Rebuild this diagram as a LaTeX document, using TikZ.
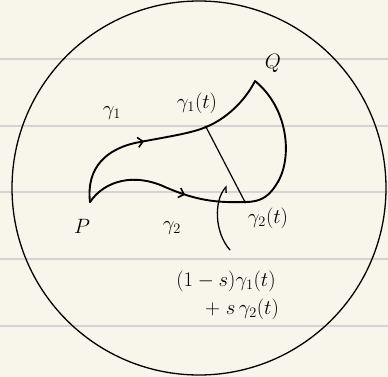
\documentclass[tikz,border=0pt]{standalone}
\usepackage{amsmath, amssymb}
\usepackage{xcolor}
\usetikzlibrary{arrows.meta, decorations.markings}

\definecolor{paper}{HTML}{F8F6EA}
\definecolor{ruling}{HTML}{D4D4D4}

\tikzset{
    curve/.style={line width=1.9pt, line cap=round},
    midarrow/.style={postaction={decorate}, decoration={markings,
        mark=at position #1 with {\arrow{Straight Barb[length=5pt, width=10pt, line width=1.6pt]}}}},
    lbl/.style={font=\huge, inner sep=1pt},
}

\begin{document}
\begin{tikzpicture}[x=1pt, y=-1pt]
    % Paper
    \fill[paper] (0,0) rectangle (388,377);
    \useasboundingbox (0,0) rectangle (388,377);
    \foreach \y in {59,126,192,259,326}
        \draw[ruling, line width=1.4pt] (0,\y) -- (388,\y);
    
    % Disc
    \draw[line width=1.3pt] (199,188) circle (187pt);
    
    % Points
    \coordinate (P) at (90,202);
    \coordinate (Q) at (255,81);
    \coordinate (g1t) at (206,127);
    \coordinate (g2t) at (245,202);
    
    % Path gamma_1
    \draw[curve, midarrow=0.41] (P) .. controls (86,168) and (106,148) .. (140,142)
        .. controls (172,136) and (192,133) .. (g1t)
        .. controls (226,119) and (245,101) .. (Q);
    
    % Path gamma_2
    \draw[curve, midarrow=0.33] (P) .. controls (105,180) and (135,173) .. (165,187)
        .. controls (195,200) and (215,203) .. (g2t)
        .. controls (262,202) and (270,196) .. (279,180)
        .. controls (292,155) and (288,108) .. (Q);
    
    % Straight segment between the two paths
    \draw[line width=1.2pt] (g1t) -- (g2t);
    \fill (g1t) circle (1.6pt);
    \fill (g2t) circle (1.6pt);
    
    % Labels
    \node[lbl] (lP) at (82,226) {$P$};
    \node[lbl] (lQ) at (273,63) {$Q$};
    \node[lbl] (lg1) at (112,113) {$\gamma_1$};
    \node[lbl] (lg2) at (172,228) {$\gamma_2$};
    \node[lbl] (lg1t) at (197,103) {$\gamma_1(t)$};
    \node[lbl] (lg2t) at (268,218) {$\gamma_2(t)$};
    \node[lbl] (lmix1) at (226,281) {$(1-s)\gamma_1(t)$};
    \node[lbl] (lmix2) at (242,309) {$+\;s\,\gamma_2(t)$};
    
    % Pointer to the segment
    \coordinate (ptr) at (230,250);
    \coordinate (ptrtip) at (227,186);
    \draw[line width=1.3pt, line cap=round, -{Straight Barb[harpoon, swap, length=4pt, width=8pt]}]
        (ptr) .. controls (214,232) and (214,200) .. (ptrtip);
\end{tikzpicture}
\end{document}
